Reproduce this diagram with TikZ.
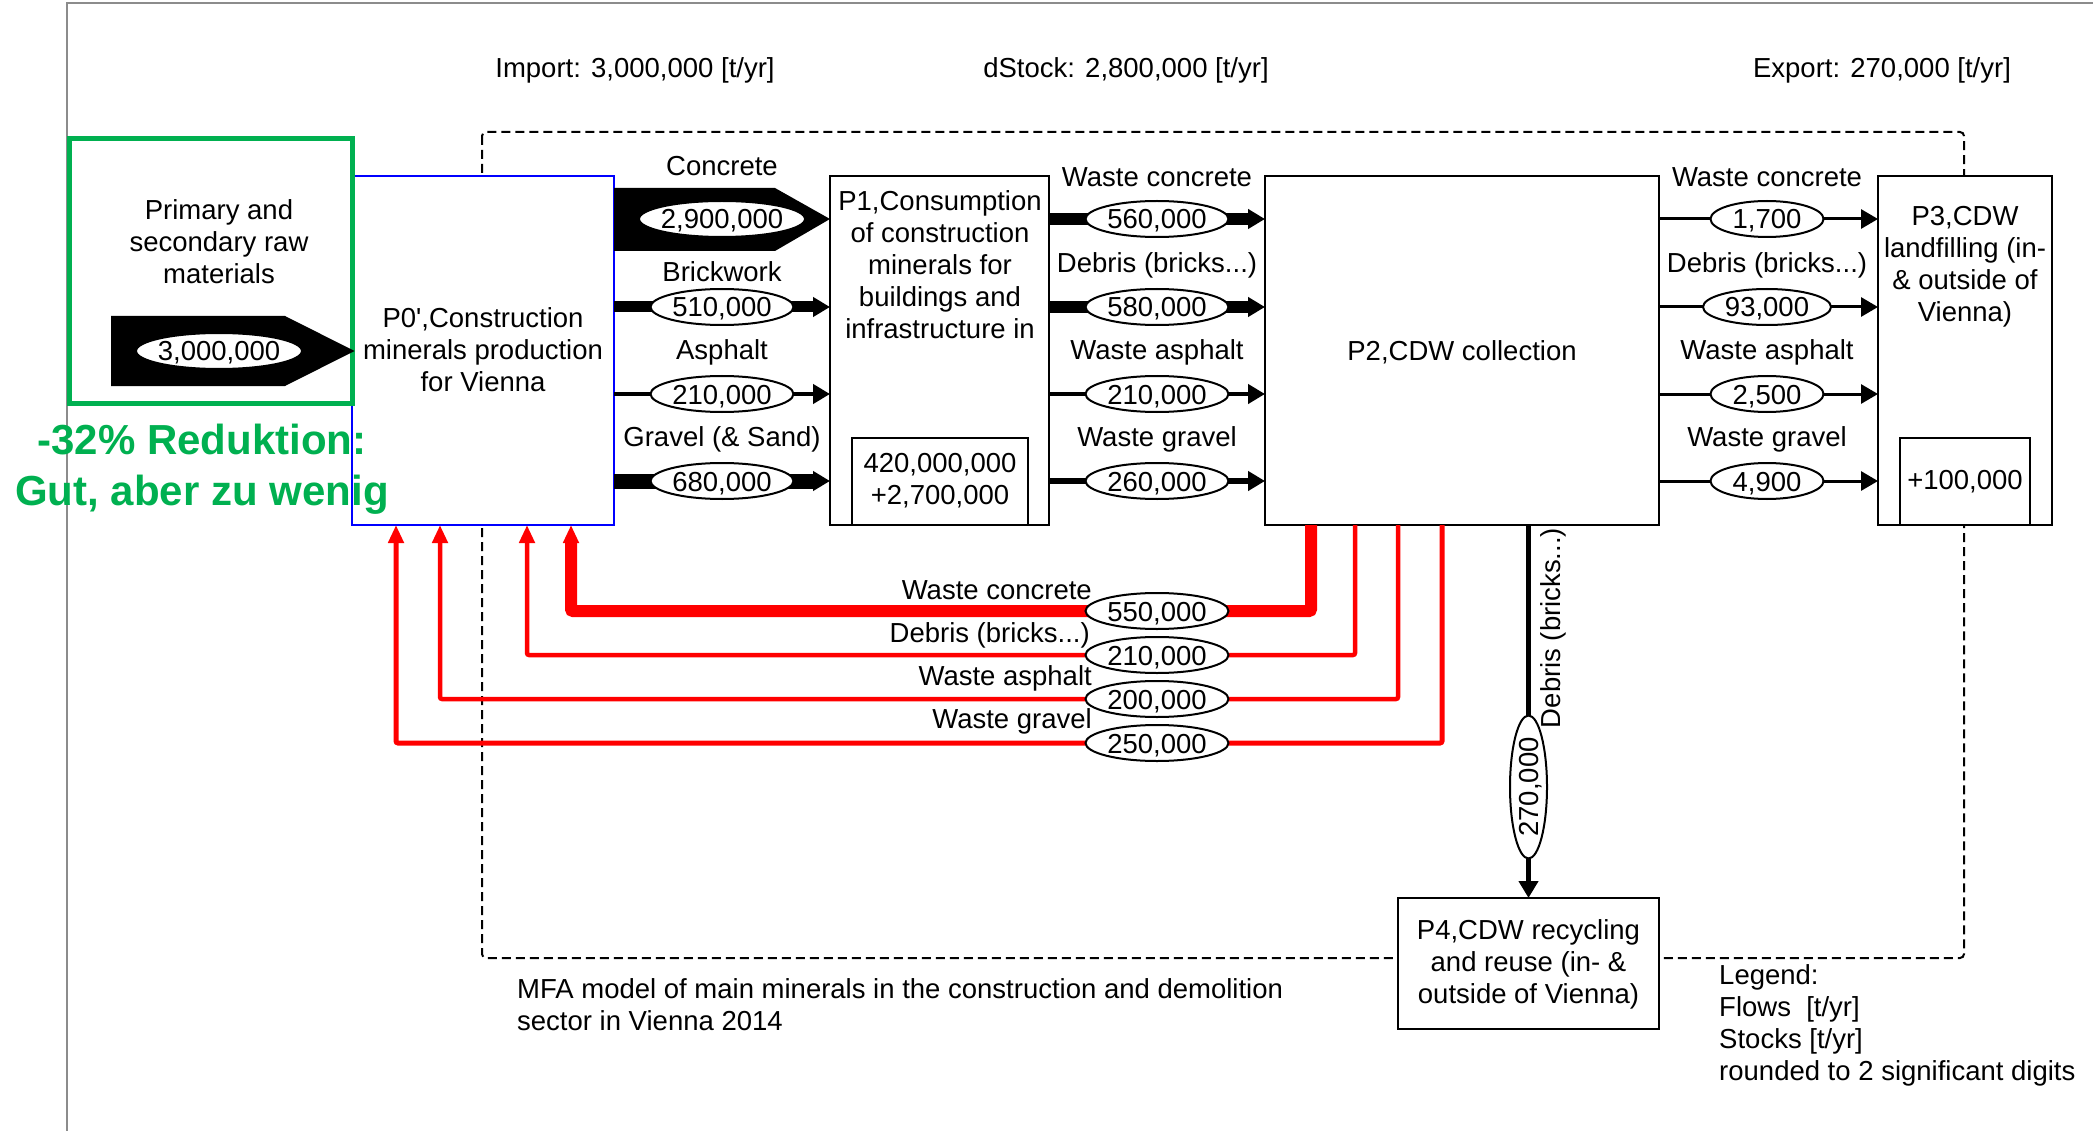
\documentclass[tikz,border=0pt]{standalone}
\usepackage{fontspec}
\setmainfont{Liberation Sans}
\usetikzlibrary{arrows.meta,shapes.geometric,calc}
\definecolor{greenc}{RGB}{0,176,80}
\definecolor{bluec}{RGB}{0,0,255}
\definecolor{redc}{RGB}{255,0,0}
\definecolor{framec}{RGB}{140,140,140}
\tikzset{
  proc/.style={draw=black, line width=2.5pt, fill=white, inner sep=0pt, outer sep=0pt},
  txt/.style={inner sep=0pt, align=center},
  val/.style={ellipse, draw=black, line width=2pt, fill=white, inner xsep=-20pt, inner ysep=0pt,
    text height=20pt, text depth=0pt, minimum height=36pt, minimum width=#1},
  flow/.style={draw=black, line width=#1, -{Triangle[length=17pt,width=19pt]}},
  rflow/.style={draw=redc, line width=#1, rounded corners=2pt, -{Triangle[length=18pt,width=15pt]}},
}
\begin{document}
\begin{tikzpicture}[x=1pt,y=-1pt,font=\fontsize{27.5}{32}\selectfont]
\useasboundingbox (0,0) rectangle (2093,1131);
% frame
\draw[framec, line width=1.5pt] (67,1131) -- (67,3) -- (2093,3);
% system boundary
\draw[dash pattern=on 9pt off 5pt, line width=2pt, rounded corners=4pt] (482,132) rectangle (1964,958);

% row coordinates
\coordinate (r1) at (0,219);
\coordinate (r2) at (0,307);
\coordinate (r3) at (0,394);
\coordinate (r4) at (0,481);

% processes
\node[proc, draw=bluec, line width=2pt, minimum width=262pt, minimum height=349pt] (p0) at (483,350.5) {};
\node[proc, minimum width=219pt, minimum height=349pt] (p1) at (939.5,350.5) {};
\node[proc, minimum width=176pt, minimum height=87pt] (s1) at (940,481.5) {};
\node[proc, minimum width=394pt, minimum height=349pt] (p2) at (1462,350.5) {};
\node[proc, minimum width=174pt, minimum height=349pt] (p3) at (1965,350.5) {};
\node[proc, minimum width=130pt, minimum height=87pt] (s3) at (1965,481.5) {};
\node[proc, minimum width=261pt, minimum height=131pt] (p4) at (1528.5,963.5) {};
\node[draw=greenc, line width=5pt, inner sep=0pt, minimum width=283pt, minimum height=264pt] (g) at (210.5,271) {};

% import block arrow
\coordinate (src) at (111,351);
\fill[black] ($(src)+(0,-35)$) -- ($(src)+(174,-35)$) -- (g.east |- src) -- ($(src)+(174,35)$) -- ($(src)+(0,35)$) -- cycle;
% concrete block arrow
\fill[black] (p0.east |- 0,188) -- ($(p1.west |- 0,188)+(-55,0)$) -- (p1.west |- r1) -- ($(p1.west |- 0,251)+(-55,0)$) -- (p0.east |- 0,251) -- cycle;

% flows P0' -> P1
\draw[flow=11pt] (p0.east |- r2) -- (p1.west |- r2);
\draw[flow=4.5pt] (p0.east |- r3) -- (p1.west |- r3);
\draw[flow=15pt] (p0.east |- r4) -- (p1.west |- r4);
% flows P1 -> P2
\draw[flow=12pt] (p1.east |- r1) -- (p2.west |- r1);
\draw[flow=12.5pt] (p1.east |- r2) -- (p2.west |- r2);
\draw[flow=4.5pt] (p1.east |- r3) -- (p2.west |- r3);
\draw[flow=5.5pt] (p1.east |- r4) -- (p2.west |- r4);
% flows P2 -> P3
\draw[flow=3pt] (p2.east |- r1) -- (p3.west |- r1);
\draw[flow=3pt] (p2.east |- r2) -- (p3.west |- r2);
\draw[flow=3pt] (p2.east |- r3) -- (p3.west |- r3);
\draw[flow=3pt] (p2.east |- r4) -- (p3.west |- r4);
% flow P2 -> P4
\draw[flow=4.5pt] (p2.south -| p4.north) -- (p4.north);
% return flows P2 -> P0'
\coordinate (q1) at (571,611);
\coordinate (q2) at (527,655);
\coordinate (q3) at (440,699);
\coordinate (q4) at (396,743);
\draw[rflow=12pt] (p2.south -| 1311,0) |- (q1) -- (p0.south -| q1);
\draw[rflow=4.5pt] (p2.south -| 1355,0) |- (q2) -- (p0.south -| q2);
\draw[rflow=4.5pt] (p2.south -| 1398,0) |- (q3) -- (p0.south -| q3);
\draw[rflow=5pt] (p2.south -| 1442,0) |- (q4) -- (p0.south -| q4);

% value ellipses
\node[val=166pt] (v300) at (219,351) {3,000,000};
\node[val=166pt] (v290) at (722,219) {2,900,000};
\node[val=143pt] (v51) at (722,307) {510,000};
\node[val=143pt] (v21a) at (722,394) {210,000};
\node[val=143pt] (v68) at (722,481) {680,000};
\node[val=143pt] (v56) at (1157,219) {560,000};
\node[val=143pt] (v58) at (1157,307) {580,000};
\node[val=143pt] (v21b) at (1157,394) {210,000};
\node[val=143pt] (v26) at (1157,481) {260,000};
\node[val=113pt] (v17) at (1767,219) {1,700};
\node[val=128pt] (v93) at (1767,307) {93,000};
\node[val=113pt] (v25) at (1767,394) {2,500};
\node[val=113pt] (v49) at (1767,481) {4,900};
\node[val=143pt] (v55) at (1157,611) {550,000};
\node[val=143pt] (v21c) at (1157,655) {210,000};
\node[val=143pt] (v20) at (1157,699) {200,000};
\node[val=143pt] (v250) at (1157,743) {250,000};
\node[val=143pt, minimum height=37pt, rotate=90] (v27) at (1528.5,787) {270,000};

% flow labels
\node[txt] (lc) at (722,166) {Concrete};
\node[txt] (lb) at (722,272) {Brickwork};
\node[txt] (la) at (722,352) {Asphalt};
\node[txt] (lg) at (722,439) {Gravel (\& Sand)};
\node[txt] (mc) at (1157,177) {Waste concrete};
\node[txt] (md) at (1157,265) {Debris (bricks...)};
\node[txt] (ma) at (1157,352) {Waste asphalt};
\node[txt] (mg) at (1157,439) {Waste gravel};
\node[txt] (rc) at (1767,177) {Waste concrete};
\node[txt] (rd) at (1767,265) {Debris (bricks...)};
\node[txt] (ra) at (1767,352) {Waste asphalt};
\node[txt] (rg) at (1767,439) {Waste gravel};
\node[txt, anchor=east] (bc) at (1092,590) {Waste concrete};
\node[txt, anchor=east] (bd) at (1090,635) {Debris (bricks...)};
\node[txt, anchor=east] (ba) at (1092,678) {Waste asphalt};
\node[txt, anchor=east] (bg) at (1092,721) {Waste gravel};
\node[txt, rotate=90] (vd) at (1553,628) {Debris (bricks...)};

% process texts
\node[txt] (gt) at (219,242) {Primary and\\secondary raw\\materials};
\node[txt] (p0t) at (483,350) {P0\textquotesingle,Construction\\minerals production\\for Vienna};
\node[txt] (p1t) at (940,265) {P1,Consumption\\of construction\\minerals for\\buildings and\\infrastructure in};
\node[txt] (s1t) at (940,481) {420,000,000\\+2,700,000};
\node[txt] (p2t) at (1462,352) {P2,CDW collection};
\node[txt] (p3t) at (1965,267) {P3,CDW\\landfilling (in-\\\& outside of\\Vienna)};
\node[txt] (s3t) at (1965,482) {+100,000};
\node[txt] (p4t) at (1528.5,964) {P4,CDW recycling\\and reuse (in- \&\\outside of Vienna)};

% top texts
\node[txt] (imp) at (635,70) {Import: 3,000,000 [t/yr]};
\node[txt] (dst) at (1126,70) {dStock: 2,800,000 [t/yr]};
\node[txt] (exp) at (1882,70) {Export: 270,000 [t/yr]};

% captions
\node[txt, align=left, anchor=west] (mfa) at (517,1004.5) {MFA model of main minerals in the construction and demolition\\sector in Vienna 2014};
\node[txt, align=left, anchor=west] (leg) at (1719,1025) {Legend:\\Flows\ \ [t/yr]\\Stocks [t/yr]\\rounded to 2 significant digits};

% green comment
\node[txt, text=greenc, font=\fontsize{42}{51}\selectfont\bfseries] (note) at (202,469) {-32\% Reduktion:\\Gut, aber zu wenig};
\end{tikzpicture}
\end{document}
